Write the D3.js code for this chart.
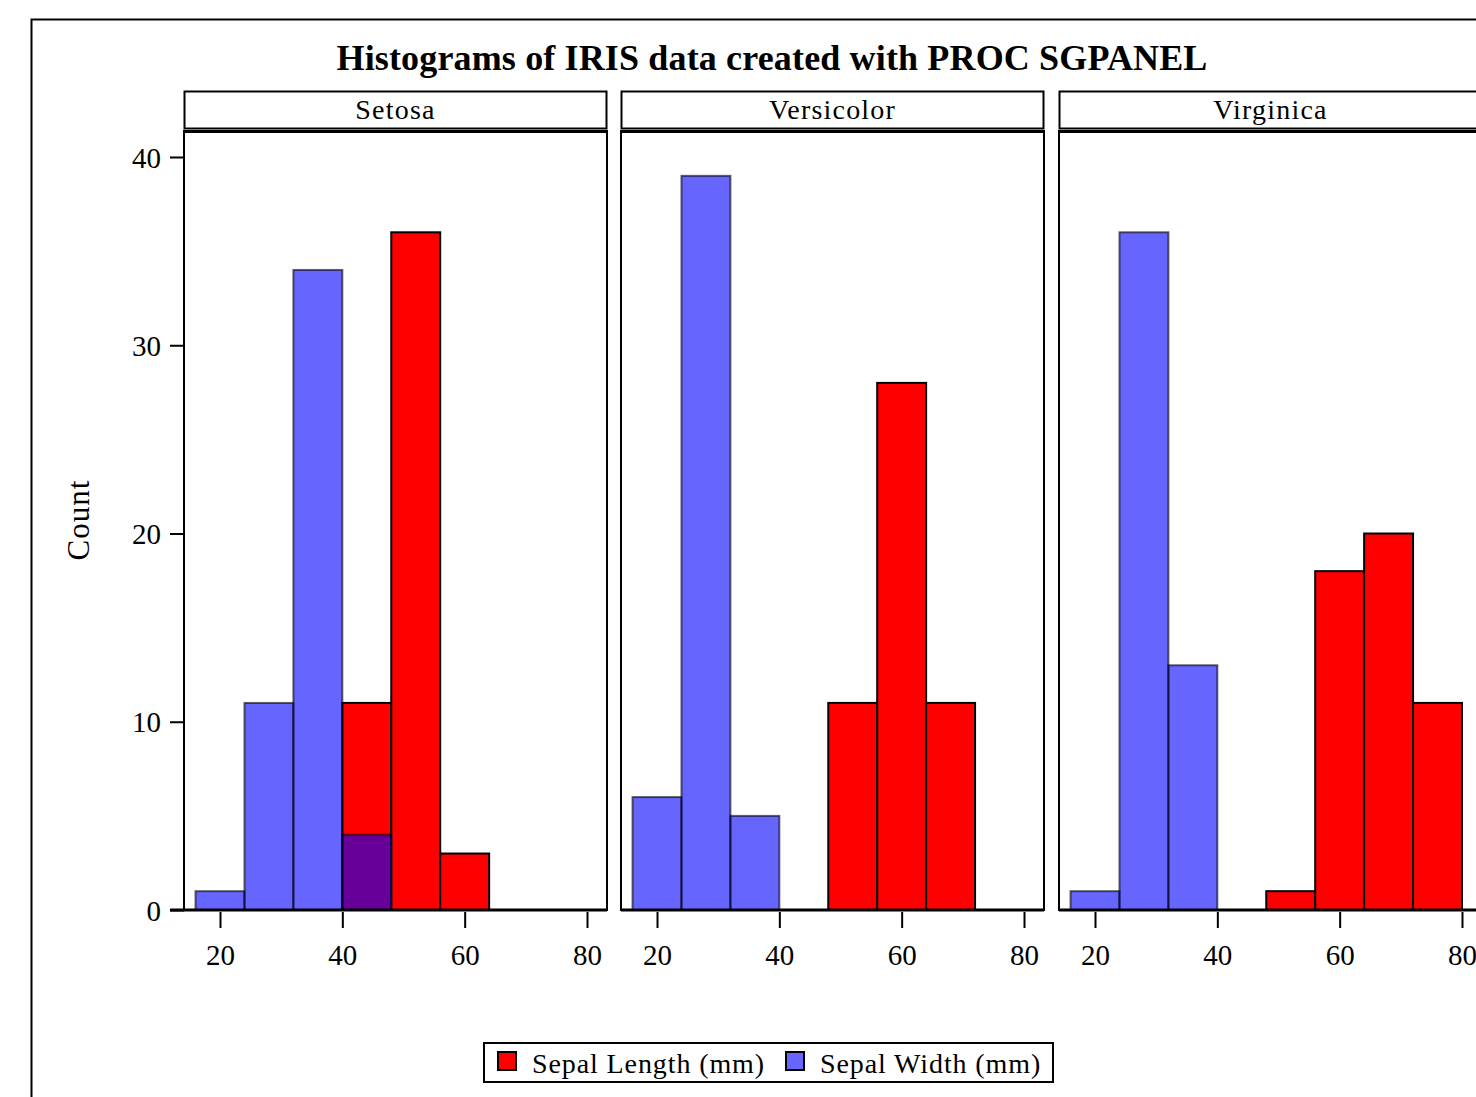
<!DOCTYPE html>
<html>
<head>
<meta charset="utf-8">
<title>Histograms of IRIS data</title>
<script src="https://d3js.org/d3.v7.min.js"></script>
<style>
  body { margin: 0; background: #fff; }
  text { font-family: "Liberation Serif", "Times New Roman", serif; fill: #000; }
</style>
</head>
<body>
<svg></svg>
<script>
var species = ["Setosa", "Versicolor", "Virginica"];
var binStarts = [16, 24, 32, 40, 48, 56, 64, 72];
var binWidth = 8;
var lengthCounts = [
  [0, 0, 0, 11, 36, 3, 0, 0],
  [0, 0, 0, 0, 11, 28, 11, 0],
  [0, 0, 0, 0, 1, 18, 20, 11]
];
var widthCounts = [
  [1, 11, 34, 4, 0, 0, 0, 0],
  [6, 39, 5, 0, 0, 0, 0, 0],
  [1, 36, 13, 0, 0, 0, 0, 0]
];
var xTicks = [20, 40, 60, 80];
var yTicks = [0, 10, 20, 30, 40];
var seriesNames = ["Sepal Length (mm)", "Sepal Width (mm)"];

var width = 1476, height = 1097;
var svg = d3.select("svg").attr("width", width).attr("height", height);

// outer frame (runs off the right and bottom like the original)
svg.append("rect")
  .attr("x", 31.5).attr("y", 19.5)
  .attr("width", 1500).attr("height", 1200)
  .attr("fill", "none").attr("stroke", "#000").attr("stroke-width", 2);

svg.append("text")
  .attr("x", 772).attr("y", 70)
  .attr("text-anchor", "middle")
  .style("font-size", "36px").style("font-weight", "bold")
  .style("letter-spacing", "0.15px")
  .text("Histograms of IRIS data created with PROC SGPANEL");

var panelLeft = [184, 621, 1059];
var panelW = 423;
var plotTop = 131, plotBottom = 910;

var x = d3.scaleLinear().domain([14.114, 83.27]).range([0, panelW]);
var y = d3.scaleLinear().domain([0, 40]).range([plotBottom, 157]);

// y axis on first panel
var yAxis = svg.append("g")
  .attr("transform", "translate(" + panelLeft[0] + ",0)")
  .call(d3.axisLeft(y).tickValues(yTicks).tickSize(14).tickPadding(9));
yAxis.select(".domain").remove();
yAxis.selectAll(".tick line").attr("stroke", "#000").attr("stroke-width", 2);
yAxis.selectAll(".tick text").style("font-size", "29px").attr("font-family", null).attr("dy", "0.35em");

svg.append("text")
  .attr("transform", "translate(89,520)rotate(-90)")
  .attr("text-anchor", "middle")
  .style("font-size", "31px").style("letter-spacing", "1px")
  .text("Count");

species.forEach(function (name, i) {
  var g = svg.append("g").attr("transform", "translate(" + panelLeft[i] + ",0)");

  // header cell
  g.append("rect")
    .attr("x", 0.5).attr("y", 91.5).attr("width", panelW - 1).attr("height", 37)
    .attr("fill", "#fff").attr("stroke", "#000").attr("stroke-width", 2);
  g.append("text")
    .attr("x", panelW / 2).attr("y", 119)
    .attr("text-anchor", "middle")
    .style("font-size", "28px").style("letter-spacing", "1.2px")
    .text(name);

  // sepal length bars (red)
  g.selectAll(".len")
    .data(binStarts.map(function (b, k) { return { x0: b, n: lengthCounts[i][k] }; })
      .filter(function (d) { return d.n > 0; }))
    .enter().append("rect")
    .attr("x", function (d) { return x(d.x0); })
    .attr("width", function (d) { return x(d.x0 + binWidth) - x(d.x0); })
    .attr("y", function (d) { return y(d.n); })
    .attr("height", function (d) { return y(0) - y(d.n); })
    .attr("fill", "#ff0000")
    .attr("stroke", "#000").attr("stroke-width", 2);

  // sepal width bars (translucent blue on top)
  g.selectAll(".wid")
    .data(binStarts.map(function (b, k) { return { x0: b, n: widthCounts[i][k] }; })
      .filter(function (d) { return d.n > 0; }))
    .enter().append("rect")
    .attr("x", function (d) { return x(d.x0); })
    .attr("width", function (d) { return x(d.x0 + binWidth) - x(d.x0); })
    .attr("y", function (d) { return y(d.n); })
    .attr("height", function (d) { return y(0) - y(d.n); })
    .attr("fill", "#0000ff").attr("fill-opacity", 0.6)
    .attr("stroke", "#000").attr("stroke-opacity", 0.6).attr("stroke-width", 2);

  // panel frame
  g.append("rect")
    .attr("x", 0).attr("y", plotTop).attr("width", panelW).attr("height", plotBottom - plotTop)
    .attr("fill", "none").attr("stroke", "#000").attr("stroke-width", 2);
  g.append("line")
    .attr("x1", 0).attr("x2", panelW).attr("y1", plotTop + 0.5).attr("y2", plotTop + 0.5)
    .attr("stroke", "#000").attr("stroke-width", 3);
  g.append("line")
    .attr("x1", i == 0 ? -14 : 0).attr("x2", panelW).attr("y1", plotBottom).attr("y2", plotBottom)
    .attr("stroke", "#000").attr("stroke-width", 3);

  // x axis
  var xa = g.append("g")
    .attr("transform", "translate(0," + (plotBottom + 2) + ")")
    .call(d3.axisBottom(x).tickValues(xTicks).tickSize(16).tickPadding(16));
  xa.select(".domain").remove();
  xa.selectAll(".tick line").attr("stroke", "#000").attr("stroke-width", 2);
  xa.selectAll(".tick text").style("font-size", "29px").attr("font-family", null);
});

// legend
var legend = svg.append("g");
legend.append("rect")
  .attr("x", 484).attr("y", 1043).attr("width", 569).attr("height", 39)
  .attr("fill", "#fff").attr("stroke", "#000").attr("stroke-width", 2);
var legendX = [498, 786];
var legendFill = ["#ff0000", "#6666ff"];
seriesNames.forEach(function (s, k) {
  legend.append("rect")
    .attr("x", legendX[k]).attr("y", 1052).attr("width", 18).attr("height", 18)
    .attr("fill", legendFill[k]).attr("stroke", "#000").attr("stroke-width", 2);
  legend.append("text")
    .attr("x", legendX[k] + 34).attr("y", 1073)
    .style("font-size", "28px").style("letter-spacing", "0.9px")
    .text(s);
});
</script>
</body>
</html>
